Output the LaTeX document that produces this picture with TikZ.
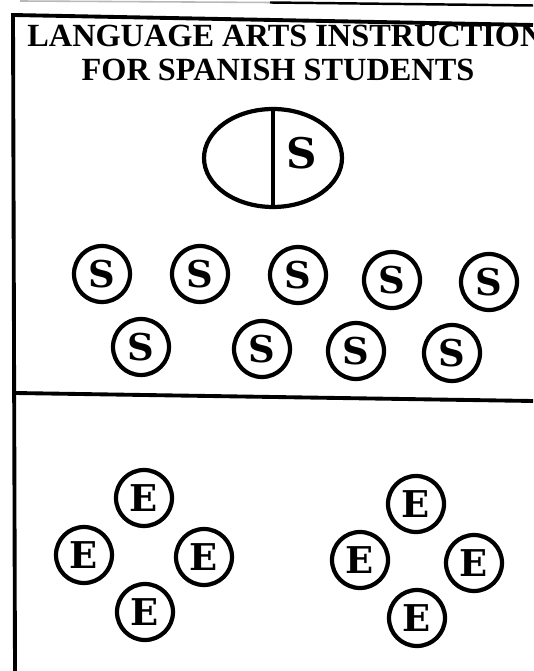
\documentclass[tikz,border=0pt]{standalone}
\usepackage{fontspec}
\setmainfont{Liberation Serif}
\newfontfamily\heavyfont{DejaVu Serif}
\usetikzlibrary{shapes.geometric}

\begin{document}
\begin{tikzpicture}[x=0.02cm,y=-0.02cm,
    frame/.style={line width=2.2pt},
    pupil/.style={circle,draw,line width=2.4pt,minimum size=1.12cm,inner sep=0pt,
      font=\fontsize{21}{21}\heavyfont\bfseries},
    english/.style={pupil,font=\fontsize{21}{21}\heavyfont\bfseries}]
  \useasboundingbox (0,0) rectangle (533,671);
  \clip (0,0) rectangle (533,671);

  % scan edge at the top
  \draw[gray!55,line width=0.9pt] (20,1) -- (270,2.5);
  \draw[line width=1.4pt] (270,2.5) -- (533,5.5);

  % frame and divider
  \draw[frame,line join=miter] (533,25) -- (13,15) -- (15,671);
  \draw[frame] (15,393) -- (533,401);

  % title
  \node[anchor=base west,inner sep=0pt,font=\fontsize{18.4}{20}\selectfont\bfseries]
    (t1) at (27,47) {LANGUAGE ARTS INSTRUCTION};
  \node[anchor=base,inner sep=0pt,font=\fontsize{18.4}{20}\selectfont\bfseries]
    (t2) at (278,81) {FOR SPANISH STUDENTS};

  % teacher table
  \node[ellipse,draw,line width=2.4pt,minimum width=2.76cm,minimum height=1.96cm]
    (table) at (273,158) {};
  \draw[line width=2.4pt] (table.north) -- (table.south);
  \node[font=\fontsize{24}{24}\heavyfont\bfseries] (t) at (302,153) {S};

  % spanish students
  \node[pupil] (s1) at (102,274) {S};
  \node[pupil] (s2) at (200,274) {S};
  \node[pupil] (s3) at (298,275) {S};
  \node[pupil] (s4) at (392,280) {S};
  \node[pupil] (s5) at (489,282) {S};
  \node[pupil] (s6) at (141,347) {S};
  \node[pupil] (s7) at (262,349) {S};
  \node[pupil] (s8) at (356,351) {S};
  \node[pupil] (s9) at (452,353) {S};

  % english groups
  \node[english] (e1) at (144,498) {E};
  \node[english] (e2) at (84,555) {E};
  \node[english] (e3) at (204,557) {E};
  \node[english] (e4) at (145,612) {E};

  \node[english] (e5) at (416,504) {E};
  \node[english] (e6) at (360,560) {E};
  \node[english] (e7) at (474,563) {E};
  \node[english] (e8) at (417,618) {E};
\end{tikzpicture}
\end{document}
